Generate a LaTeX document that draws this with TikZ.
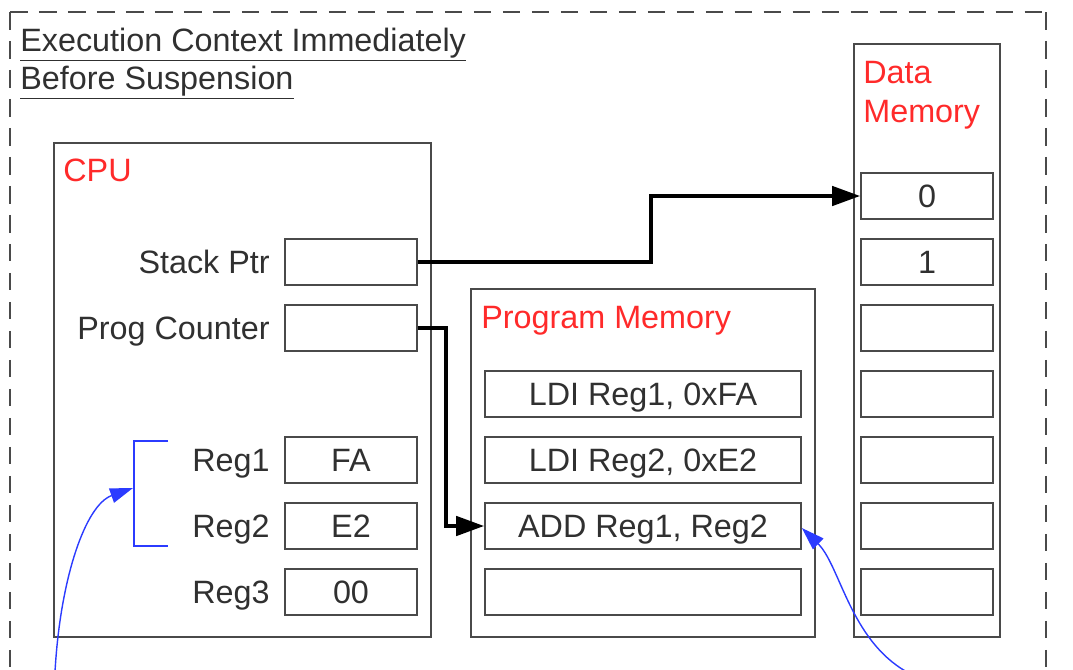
\documentclass[tikz,border=0pt]{standalone}
\usepackage{fontspec}
\setmainfont{Liberation Sans}
\usetikzlibrary{arrows.meta}

\definecolor{textgray}{HTML}{303030}
\definecolor{linegray}{HTML}{4A4A4A}
\definecolor{headred}{HTML}{FF2A2A}
\definecolor{noteblue}{HTML}{2B3BFF}

\begin{document}
\begin{tikzpicture}[x=0.02cm, y=-0.02cm,
  every node/.style={font=\fontsize{18.4}{22}\selectfont, text=textgray, text height=13.2pt, text depth=0pt},
  unit/.style={draw=linegray, line width=1pt, inner sep=0pt},
  cell/.style={unit, minimum width=2.64cm, minimum height=0.92cm},
  prog/.style={cell, minimum width=6.32cm},
  heading/.style={text=headred, anchor=west, inner sep=0pt},
  reglabel/.style={anchor=east, inner sep=0pt},
  bus/.style={line width=2.2pt, -{Triangle[length=16pt, width=11pt]}},
  note/.style={draw=noteblue, line width=0.8pt, -{Triangle[length=13pt, width=8.5pt]}, noteblue},
  ]
\useasboundingbox (0,0) rectangle (1073,670);

% Dashed frame round the whole context
\draw[dashed, dash pattern=on 10pt off 6.5pt, line width=1.1pt, color=linegray] (10,12) -- (1046,12);
\draw[dashed, dash pattern=on 10pt off 6.5pt, line width=1.1pt, color=linegray] (10,12) -- (10,670);
\draw[dashed, dash pattern=on 10pt off 6.5pt, line width=1.1pt, color=linegray] (1046,12) -- (1046,670);

\node[anchor=west, inner sep=0pt] (title1) at (20,40) {\underline{Execution Context Immediately}};
\node[anchor=west, inner sep=0pt] (title2) at (20,78) {\underline{Before Suspension}};


% CPU with its registers
\node[unit, minimum width=7.54cm, minimum height=9.88cm] (cpu) at (242.5,390) {};
\node[heading] (cpuname) at (63,170) {CPU};

\node[reglabel] (splabel) at (270,262) {Stack Ptr};
\node[cell] (sp) at (351,262) {};
\node[reglabel] (pclabel) at (270,328) {Prog Counter};
\node[cell] (pc) at (351,328) {};

\node[reglabel] (r1label) at (270,460) {Reg1};
\node[cell] (r1) at (351,460) {FA};
\node[reglabel] (r2label) at (270,526) {Reg2};
\node[cell] (r2) at (351,526) {E2};
\node[reglabel] (r3label) at (270,592) {Reg3};
\node[cell] (r3) at (351,592) {00};


% Program memory
\node[unit, minimum width=6.88cm, minimum height=6.96cm] (pmem) at (643,463) {};
\node[heading] (pmemname) at (481,317) {Program Memory};

\node[prog] (ldi1) at (643,394) {LDI Reg1, 0xFA};
\node[prog] (ldi2) at (643,460) {LDI Reg2, 0xE2};
\node[prog] (add) at (643,526) {ADD Reg1, Reg2};
\node[prog] (pempty) at (643,592) {};


% Data memory
\node[unit, minimum width=2.92cm, minimum height=11.86cm] (dmem) at (927,340.5) {};
\node[heading] (dmemname1) at (863,72) {Data};
\node[heading] (dmemname2) at (863,111) {Memory};

\node[cell] (d0) at (927,196) {0};
\node[cell] (d1) at (927,262) {1};
\node[cell] (d2) at (927,328) {};
\node[cell] (d3) at (927,394) {};
\node[cell] (d4) at (927,460) {};
\node[cell] (d5) at (927,526) {};
\node[cell] (d6) at (927,592) {};


% Pointers
\draw[bus] (sp.east) -- ++(233,0) |- (d0.west);
\draw[bus] (pc.east) -- ++(28,0) |- (add.west);


% Bracket over Reg1 and Reg2, and the two notes coming in from below
\draw[noteblue, line width=0.9pt] (168,441) -- (134,441) -- (134,546) -- (168,546);
\coordinate (brk) at (133,488);
\coordinate (low1) at (55,672);
\coordinate (low2) at (907,672);

\draw[note] (low1) .. controls (60,580) and (85,505) .. (brk);
\draw[note] (low2) .. controls (850,640) and (840,565) .. (add.south east |- 0,528);

\end{tikzpicture}
\end{document}
